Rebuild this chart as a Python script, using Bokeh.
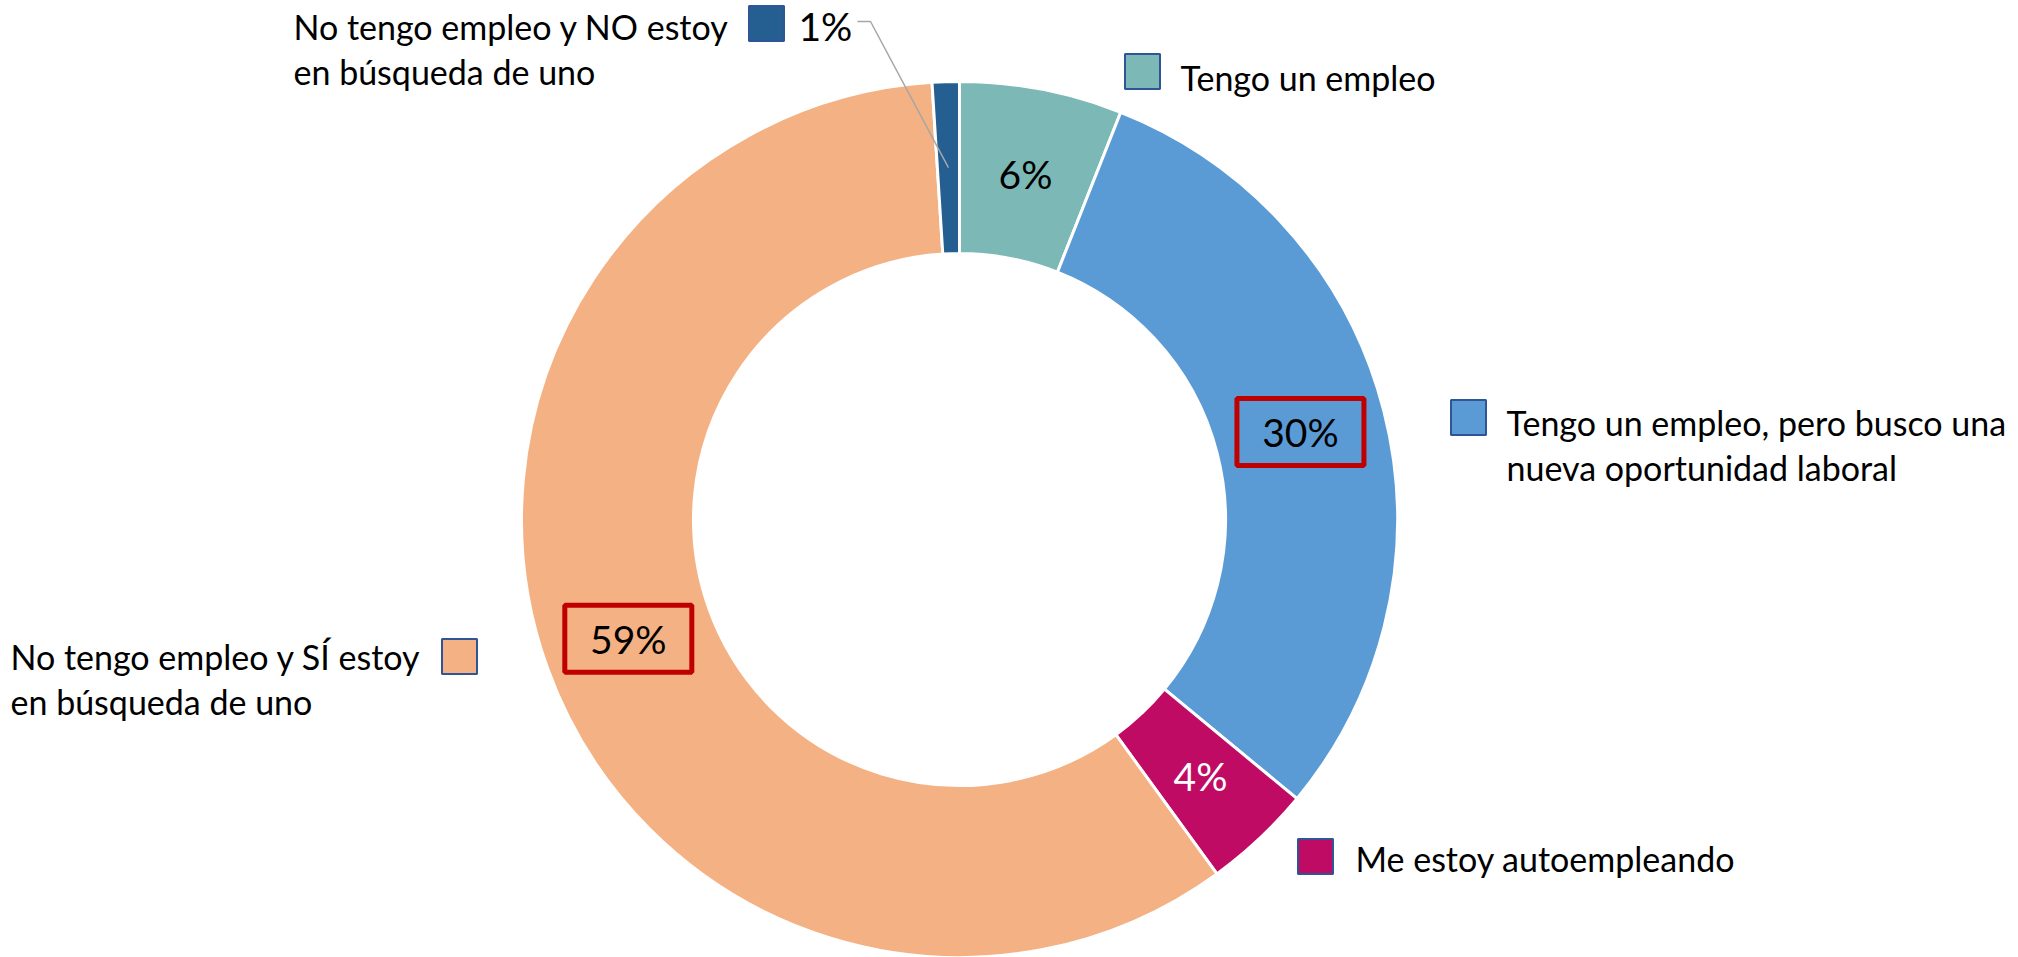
import math
import numpy as np
from bokeh.plotting import figure
from bokeh.models import Range1d, ColumnDataSource
from bokeh.core.properties import value
from bokeh.embed import file_html
from bokeh.resources import INLINE

# ---------------- data ----------------
categories = [
    "Tengo un empleo",
    "Tengo un empleo, pero busco una nueva oportunidad laboral",
    "Me estoy autoempleando",
    "No tengo empleo y SÍ estoy en búsqueda de uno",
    "No tengo empleo y NO estoy en búsqueda de uno",
]
values = [6, 30, 4, 59, 1]
pct_labels = ["6%", "30%", "4%", "59%", "1%"]
colors = ["#7CB9B6", "#5B9BD5", "#C00B65", "#F4B183", "#255E91"]
highlight = [False, True, False, True, False]

# ---------------- layout (page pixels) ----------------
W, H = 2018, 957
FONT = "Lato"
CAT_SIZE = "34px"
PCT_SIZE = "39px"


def X(px):
    return px


def Y(py):
    return -py


cx, cy = X(959), Y(519)
R_OUT, R_IN = 438, 266
R_MID = (R_OUT + R_IN) / 2

p = figure(width=W, height=H, x_range=Range1d(0, W), y_range=Range1d(-H, 0),
           output_backend="svg", toolbar_location=None, min_border=0)
p.axis.visible = False
p.grid.visible = False
p.outline_line_color = None
p.background_fill_color = "white"
p.border_fill_color = "white"

vals = np.array(values, dtype=float)
fr = vals / vals.sum()
cum_end = np.cumsum(fr)
cum_start = cum_end - fr
start_ang = math.pi / 2 - 2 * math.pi * cum_start
end_ang = math.pi / 2 - 2 * math.pi * cum_end
mid_ang = (start_ang + end_ang) / 2

src = ColumnDataSource(dict(start=start_ang, end=end_ang, color=colors))
p.annular_wedge(x=cx, y=cy, inner_radius=R_IN, outer_radius=R_OUT,
                start_angle="start", end_angle="end", direction="clock",
                fill_color="color", line_color="white", line_width=3, source=src)

# percentage labels at mid radius
lx = cx + R_MID * np.cos(mid_ang)
ly = cy + R_MID * np.sin(mid_ang)
txt_colors = ["black", "black", "white", "black", "black"]
for i in range(len(values)):
    if i == 4:
        continue
    p.text(x=[lx[i]], y=[ly[i]], text=[pct_labels[i]], text_align="center",
           text_baseline="middle", text_font=value(FONT), text_font_size=PCT_SIZE,
           text_color=txt_colors[i])
    if highlight[i]:
        p.rect(x=[lx[i]], y=[ly[i]], width=127, height=67, fill_alpha=0,
               line_color="#C00000", line_width=5)

# leader line for the 1% slice
p.line(x=[lx[4], X(870), X(857)], y=[ly[4], Y(21), Y(21)],
       line_color="#A6A6A6", line_width=1.5)
p.text(x=[X(798)], y=[Y(25)], text=[pct_labels[4]], text_align="left",
       text_baseline="middle", text_font=value(FONT), text_font_size=PCT_SIZE,
       text_color="black")

# category labels with legend keys
SQ = 35
key_pos = [(1142, 71), (1468, 417), (1315, 856), (459, 656), (766, 23)]
lines = [
    ["Tengo un empleo"],
    ["Tengo un empleo, pero busco una", "nueva oportunidad laboral"],
    ["Me estoy autoempleando"],
    ["No tengo empleo y SÍ estoy", "en búsqueda de uno"],
    ["No tengo empleo y NO estoy", "en búsqueda de uno"],
]
text_pos = [(1180, 77), (1506, 422), (1355, 858), (10, 656), (293, 26)]
LINE_H = 45
for i in range(len(categories)):
    kx, ky = key_pos[i]
    p.rect(x=[X(kx)], y=[Y(ky)], width=SQ, height=SQ, fill_color=colors[i],
           line_color="#2F5597", line_width=2)
    tx, ty = text_pos[i]
    for j, ln in enumerate(lines[i]):
        p.text(x=[X(tx)], y=[Y(ty + j * LINE_H)], text=[ln], text_align="left",
               text_baseline="middle", text_font=value(FONT),
               text_font_size=CAT_SIZE, text_color="black")

open("out.html", "w").write(file_html(p, INLINE))
